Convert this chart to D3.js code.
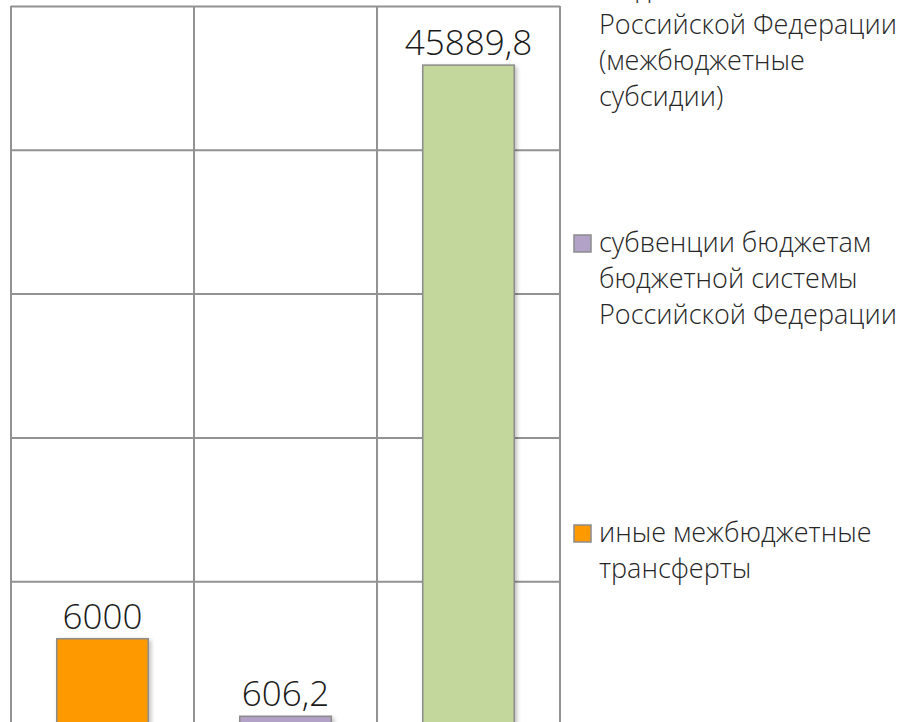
<!DOCTYPE html>
<html>
<head>
<meta charset="utf-8">
<script src="https://cdn.jsdelivr.net/npm/d3@7"></script>
<style>
  body { margin: 0; background: #fff; }
  svg { display: block; }
  .label { font-family: "Open Sans", "Noto Sans", sans-serif; font-weight: 300; font-size: 35px; fill: #1a1a1a; }
  .legend text { font-family: "Open Sans", "Noto Sans", sans-serif; font-weight: 300; font-size: 27px; fill: #262626; }
</style>
</head>
<body>
<div id="chart-area"></div>
<script>
// data
var categories = ["иные межбюджетные трансферты",
                  "субвенции бюджетам бюджетной системы Российской Федерации",
                  "субсидии бюджетам бюджетной системы Российской Федерации (межбюджетные субсидии)"];
var values = [6000, 606.2, 45889.8];
var valueLabels = ["6000", "606,2", "45889,8"];
var colors = ["#ff9900", "#b3a2c7", "#c3d69b"];
var gridValues = [0, 10000, 20000, 30000, 40000, 50000];

// legend entries, top to bottom, already wrapped like in the picture
var legendOrder = [2, 1, 0];
var legendLines = [
  ["субсидии бюджетам", "бюджетной системы", "Российской Федерации", "(межбюджетные", "субсидии)"],
  ["субвенции бюджетам", "бюджетной системы", "Российской Федерации"],
  ["иные межбюджетные", "трансферты"]
];

var W = 906, H = 722;
var margin = { left: 11, right: 346, top: 6 };
var width = W - margin.left - margin.right;   // 549
var height = 719;                              // plot runs a little past the bottom edge

var svg = d3.select("#chart-area")
  .append("svg")
  .attr("width", W)
  .attr("height", H);

var defs = svg.append("defs");
var f = defs.append("filter").attr("id", "shadow")
  .attr("x", "-10%").attr("y", "-10%").attr("width", "130%").attr("height", "130%");
f.append("feDropShadow")
  .attr("dx", 2).attr("dy", 2).attr("stdDeviation", 2)
  .attr("flood-color", "#000").attr("flood-opacity", 0.25);

var g = svg.append("g")
  .attr("transform", "translate(" + margin.left + "," + margin.top + ")");

var x = d3.scaleBand().domain(categories).range([0, width]).padding(0);
var y = d3.scaleLinear().domain([0, 50000]).range([height, 0]);

// horizontal grid
var yGrid = g.append("g")
  .call(d3.axisLeft(y).tickValues(gridValues).tickSize(-width).tickFormat(""));
yGrid.select(".domain").remove();
yGrid.selectAll("line").attr("stroke", "#929292").attr("stroke-width", 2);

// vertical grid on category boundaries
var bounds = categories.map(function(c) { return x(c); }).concat([width]);
g.selectAll(".vgrid")
  .data(bounds)
  .enter().append("line")
  .attr("class", "vgrid")
  .attr("x1", function(d) { return d; })
  .attr("x2", function(d) { return d; })
  .attr("y1", 0)
  .attr("y2", height)
  .attr("stroke", "#929292")
  .attr("stroke-width", 2);

// bars
var bw = x.bandwidth() * 0.5;
g.selectAll("rect.bar")
  .data(values)
  .enter().append("rect")
  .attr("class", "bar")
  .attr("x", function(d, i) { return x(categories[i]) + (x.bandwidth() - bw) / 2; })
  .attr("y", function(d) { return y(d); })
  .attr("width", bw)
  .attr("height", function(d) { return height - y(d); })
  .attr("fill", function(d, i) { return colors[i]; })
  .attr("stroke", "#8c8c8c")
  .attr("stroke-width", 1.5)
  .attr("filter", "url(#shadow)");

// value labels
g.selectAll("text.label")
  .data(values)
  .enter().append("text")
  .attr("class", "label")
  .attr("x", function(d, i) { return x(categories[i]) + x.bandwidth() / 2; })
  .attr("y", function(d) { return y(d) - 10; })
  .attr("text-anchor", "middle")
  .text(function(d, i) { return valueLabels[i]; });

// legend
var legend = svg.append("g").attr("class", "legend")
  .attr("transform", "translate(573,0)");
var lineH = 36, entryStep = 290, firstTop = -38;

legendOrder.forEach(function(si, k) {
  var top = firstTop + k * entryStep;
  var item = legend.append("g").attr("transform", "translate(0," + top + ")");
  item.append("rect")
    .attr("x", 1).attr("y", -17)
    .attr("width", 17).attr("height", 17)
    .attr("fill", colors[si])
    .attr("stroke", "#8c8c8c")
    .attr("stroke-width", 1.5);
  item.selectAll("text")
    .data(legendLines[k])
    .enter().append("text")
    .attr("x", 26)
    .attr("y", function(d, j) { return j * lineH; })
    .text(function(d) { return d; });
});
</script>
</body>
</html>
